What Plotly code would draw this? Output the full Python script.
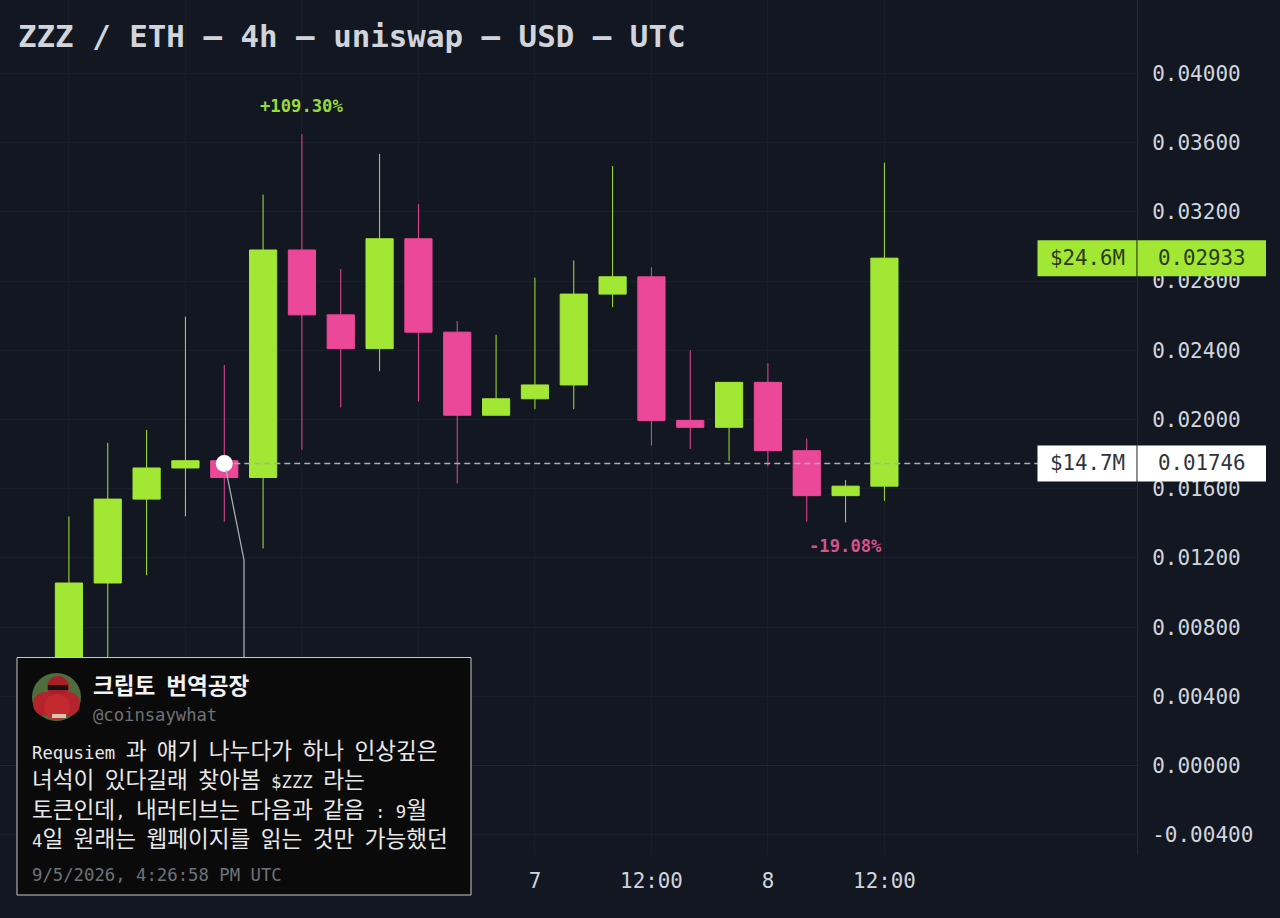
import re
import plotly.graph_objects as go

times = ["2026-09-05 00:00","2026-09-05 04:00","2026-09-05 08:00","2026-09-05 12:00","2026-09-05 16:00","2026-09-05 20:00",
         "2026-09-06 00:00","2026-09-06 04:00","2026-09-06 08:00","2026-09-06 12:00","2026-09-06 16:00","2026-09-06 20:00",
         "2026-09-07 00:00","2026-09-07 04:00","2026-09-07 08:00","2026-09-07 12:00","2026-09-07 16:00","2026-09-07 20:00",
         "2026-09-08 00:00","2026-09-08 04:00","2026-09-08 08:00","2026-09-08 12:00"]
opens  = [0.00550,0.01055,0.01540,0.01720,0.01762,0.01665,0.02980,0.02605,0.02410,0.03045,0.02505,0.02025,
          0.02120,0.02200,0.02725,0.02825,0.01995,0.01955,0.02215,0.01820,0.01560,0.01615]
highs  = [0.01440,0.01865,0.01940,0.02595,0.02315,0.03300,0.03650,0.02870,0.03535,0.03245,0.02570,0.02490,
          0.02820,0.02920,0.03465,0.02880,0.02400,0.02215,0.02325,0.01890,0.01650,0.03485]
lows   = [0.00400,0.00620,0.01100,0.01440,0.01410,0.01255,0.01825,0.02070,0.02280,0.02105,0.01630,0.02025,
          0.02060,0.02060,0.02650,0.01850,0.01830,0.01760,0.01730,0.01410,0.01405,0.01530]
closes = [0.01055,0.01540,0.01720,0.01762,0.01665,0.02980,0.02605,0.02410,0.03045,0.02505,0.02025,0.02120,
          0.02200,0.02725,0.02825,0.01995,0.01955,0.02215,0.01820,0.01560,0.01615,0.02933]

tick_dates  = ["2026-09-05 00:00","2026-09-05 12:00","2026-09-06 00:00","2026-09-06 12:00",
               "2026-09-07 00:00","2026-09-07 12:00","2026-09-08 00:00","2026-09-08 12:00"]
tick_labels = ["","","","","7","12:00","8","12:00"]
price_ticks = [-0.004,0.0,0.004,0.008,0.012,0.016,0.020,0.024,0.028,0.032,0.036,0.040]
price_labels = ["-0.00400","0.00000","0.00400","0.00800","0.01200","0.01600","0.02000","0.02400","0.02800","0.03200","0.03600","0.04000"]

title = "ZZZ / ETH — 4h — uniswap — USD — UTC"
tweet_name = "크립토 번역공장"
tweet_handle = "@coinsaywhat"
tweet_lines = ["Requsiem 과 얘기 나누다가 하나 인상깊은",
               "녀석이 있다길래 찾아봄 $ZZZ 라는",
               "토큰인데, 내러티브는 다음과 같음 : 9월",
               "4일 원래는 웹페이지를 읽는 것만 가능했던"]
tweet_time = "9/5/2026, 4:26:58 PM UTC"

last_price, last_cap = 0.02933, "$24.6M"
mark_price, mark_cap = 0.01746, "$14.7M"
mark_time = "2026-09-05 16:00"
mark_end = "2026-09-09 04:00"
gain_label, gain_time, gain_high = "+109.30%", "2026-09-06 00:00", 0.03650
loss_label, loss_time, loss_low = "-19.08%", "2026-09-08 08:00", 0.01405

BG = "#121722"; GREEN = "#a2e733"; PINK = "#ec4899"; GRID = "#181d2a"; TXT = "#d1d5db"
MONO = "DejaVu Sans Mono"
CJK = "Noto Sans CJK KR"
W, H = 1280, 918
def px(x): return x / W
def py(y): return 1 - y / H

def mixed(s, latin=17.3):
    # hangul keeps the annotation's own font; everything else becomes a smaller mono span
    return re.sub(r"([^\uac00-\ud7a3]+)",
                  lambda m: f'<span style="font-family:{MONO};font-size:{latin}px">{m.group(1)}</span>', s)

fig = go.Figure(go.Candlestick(x=times, open=opens, high=highs, low=lows, close=closes,
    increasing=dict(line=dict(color=GREEN, width=1), fillcolor=GREEN),
    decreasing=dict(line=dict(color=PINK, width=1), fillcolor=PINK),
    whiskerwidth=0, showlegend=False, hoverinfo="skip"))
fig.add_trace(go.Scatter(x=[mark_time, mark_end], y=[mark_price, mark_price], mode="lines",
    line=dict(color="#a9adb4", width=1.5, dash="6px,4px"), showlegend=False, hoverinfo="skip"))
fig.add_trace(go.Scatter(x=[mark_time], y=[mark_price], mode="markers",
    marker=dict(color="white", size=17), showlegend=False, hoverinfo="skip"))

shapes = []
def rect(x0, y0, x1, y1, fill, line=None, lw=0):
    shapes.append(dict(type="rect", xref="paper", yref="paper", x0=px(x0), x1=px(x1), y0=py(y0), y1=py(y1),
                       fillcolor=fill, line=dict(color=line or fill, width=lw), layer="above"))
def ell(x0, y0, x1, y1, fill):
    shapes.append(dict(type="circle", xref="paper", yref="paper", x0=px(x0), x1=px(x1), y0=py(y0), y1=py(y1),
                       fillcolor=fill, line=dict(width=0), layer="above"))
# connector
shapes.append(dict(type="path", xref="paper", yref="paper", layer="above",
    path=f"M {px(226)} {py(470)} L {px(244)} {py(560)} L {px(244)} {py(657)}",
    line=dict(color="#b4b7bd", width=1.2)))
# right axis tags
for price, fill in ((last_price, GREEN), (mark_price, "#ffffff")):
    for x0, x1 in ((1037.5, 1136.5), (1137.5, 1266)):
        shapes.append(dict(type="rect", xref="paper", yref="y", ysizemode="pixel", yanchor=price, y0=-18, y1=18,
                           x0=px(x0), x1=px(x1), fillcolor=fill, line=dict(width=0), layer="above"))
# tweet card
rect(17, 657.5, 471, 895, "#0a0a0a", "#c8c8c8", 1)
# avatar
ell(32, 673, 81, 721, "#4f6d3c")
ell(47, 676, 69, 698, "#a81f28")      # head
ell(33, 692, 58, 716, "#b5232c")      # left arm
ell(56, 692, 80, 716, "#b5232c")      # right arm
ell(44, 694, 70, 720, "#c22a30")      # chest
rect(48, 685, 68, 690, "#141414")     # shades
rect(52, 714, 66, 718, "#d8c8b0")     # hands

annots = []
def note(x, y, text, size, color, bold=False, family=MONO):
    annots.append(dict(xref="paper", yref="paper", x=px(x), y=py(y), text=f"<b>{text}</b>" if bold else text,
                       showarrow=False, xanchor="left", yanchor="middle", align="left",
                       font=dict(family=family, size=size, color=color), borderpad=0, borderwidth=0))
note(18, 36, title, 30.8, TXT, bold=True)
note(93, 684, mixed(tweet_name, 18), 22.6, "#f2f2f2", bold=True, family=CJK)
note(93, 715, tweet_handle, 17.2, "#6f7278")
note(32, 793, "<br>".join(mixed(l) for l in tweet_lines), 22.6, "#e8e8e8", family=CJK)
note(32, 875, tweet_time, 17.3, "#6f7278")
for price, cap, fg in ((last_price, last_cap, "#2b3a14"), (mark_price, mark_cap, "#30343c")):
    for xc, t in ((1087, cap), (1202, f"{price:.5f}")):
        annots.append(dict(xref="paper", yref="y", x=px(xc), y=price, text=t, showarrow=False,
                           xanchor="center", yanchor="middle", font=dict(family=MONO, size=20.8, color=fg)))
annots.append(dict(xref="x", yref="y", x=gain_time, y=gain_high, yshift=28, text=f"<b>{gain_label}</b>", showarrow=False,
                   xanchor="center", yanchor="middle", font=dict(family=MONO, size=17.2, color="#97dc38")))
annots.append(dict(xref="x", yref="y", x=loss_time, y=loss_low, yshift=-24, text=f"<b>{loss_label}</b>", showarrow=False,
                   xanchor="center", yanchor="middle", font=dict(family=MONO, size=17.2, color="#d6528f")))

fig.update_layout(
    width=W, height=H, margin=dict(l=0, r=0, t=0, b=0, autoexpand=False),
    paper_bgcolor=BG, plot_bgcolor=BG, showlegend=False, hovermode=False,
    shapes=shapes, annotations=annots, boxgap=0.3, boxgroupgap=0,
    xaxis=dict(domain=[0, 1137/W], type="date", range=["2026-09-04 16:54", "2026-09-09 14:01"],
               rangeslider=dict(visible=False), tickmode="array", tickvals=tick_dates, ticktext=tick_labels,
               showgrid=True, gridcolor=GRID, gridwidth=1, zeroline=False, showline=False,
               ticks="outside", ticklen=7, tickcolor="rgba(0,0,0,0)",
               tickfont=dict(family=MONO, size=20.8, color=TXT), anchor="y"),
    yaxis=dict(domain=[63/H, 1], side="right", range=[-0.00517, 0.04425], tickmode="array",
               tickvals=price_ticks, ticktext=price_labels,
               showgrid=True, gridcolor=GRID, gridwidth=1, zeroline=True, zerolinecolor="#212734", zerolinewidth=1,
               showline=True, linecolor="#232936", linewidth=1,
               ticks="outside", ticklen=10, tickcolor="rgba(0,0,0,0)",
               tickfont=dict(family=MONO, size=21, color=TXT), anchor="x"),
)
fig.write_html("out.html", config=dict(displayModeBar=False),
               post_script="document.body.style.margin='0';document.body.style.background='" + BG + "';")
